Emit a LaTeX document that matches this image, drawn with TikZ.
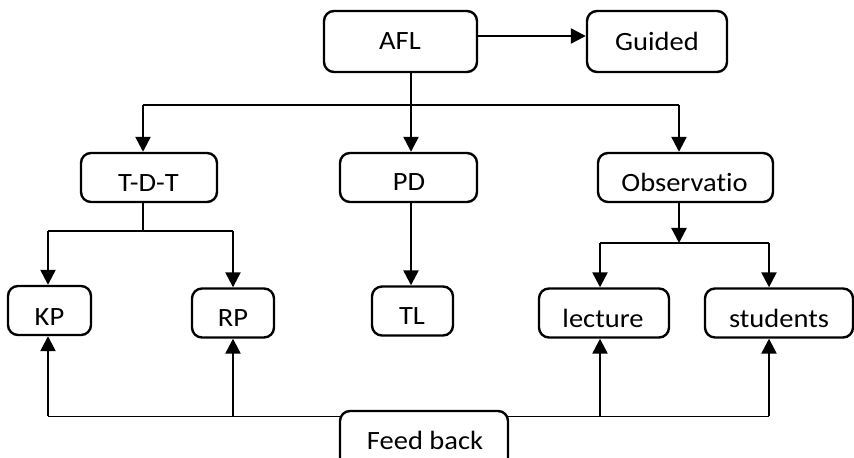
\documentclass[tikz,border=0pt]{standalone}
\usepackage{fontspec}
\setmainfont{Carlito}[FakeStretch=1.08,Ligatures=NoCommon]
\usetikzlibrary{arrows.meta,backgrounds}
\begin{document}
\begin{tikzpicture}[x=0.5pt,y=-0.5pt, line width=1.2pt,
  box/.style={draw, rounded corners=5pt, fill=white, inner sep=0pt, line width=1.2pt},
  txt/.style={anchor=base, inner sep=0pt, font=\fontsize{13.2}{15}\selectfont},
  arr/.style={-{Triangle[length=7.5pt,width=7.5pt]}}]
\useasboundingbox (0,0) rectangle (854,458);
\clip (0,0) rectangle (854,458);

% boxes
\node[box, minimum width=76.5pt, minimum height=30.5pt] (AFL) at (400.5,41.5) {};
\node[box, minimum width=70pt, minimum height=30.5pt] (Guided) at (657,41.5) {};
\node[box, minimum width=68pt, minimum height=24.5pt] (TDT) at (149,177.5) {};
\node[box, minimum width=68.5pt, minimum height=24.5pt] (PD) at (408.5,177.5) {};
\node[box, minimum width=87.5pt, minimum height=24.5pt] (Obs) at (685.5,177.5) {};
\node[box, minimum width=41.5pt, minimum height=24.5pt] (KP) at (49.5,310.5) {};
\node[box, minimum width=41pt, minimum height=24.5pt] (RP) at (233,313) {};
\node[box, minimum width=40.5pt, minimum height=24.5pt] (TL) at (412.5,311) {};
\node[box, minimum width=65pt, minimum height=24.5pt] (Lec) at (604,313) {};
\node[box, minimum width=74pt, minimum height=24.5pt] (Stu) at (779,313) {};
\node[box, minimum width=84pt, minimum height=30pt] (Feed) at (424,441) {};

% texts
\node[txt] (tAFL) at (400,50) {AFL};
\node[txt] (tGuided) at (657,51) {Guided};
\node[txt] (tTDT) at (148.5,192) {T-D-T};
\node[txt] (tPD) at (409,191) {PD};
\node[txt] (tObs) at (684.5,192) {Observatio};
\node[txt] (tKP) at (49.5,326) {KP};
\node[txt] (tRP) at (233,327) {RP};
\node[txt] (tTL) at (412,324) {TL};
\node[txt] (tLec) at (603,328) {lecture};
\node[txt] (tStu) at (779,328) {students};
\node[txt] (tFeed) at (425,449) {Feed back};

% junction coordinates
\coordinate (a0) at (411,105);
\coordinate (b1) at (143,105);
\coordinate (b2) at (679,105);
\coordinate (c0) at (143,231);
\coordinate (c1) at (48,231);
\coordinate (c2) at (233,231);
\coordinate (d0) at (679,243);
\coordinate (d1) at (600,243);
\coordinate (d2) at (769,243);
\coordinate (f1) at (48,416);
\coordinate (f2) at (233,416);
\coordinate (f3) at (600,416);
\coordinate (f4) at (769,416);
\coordinate (g0) at (0,36);

% connectors
\draw[arr] (AFL.east |- g0) -- (Guided.west |- g0);
\draw (AFL.south -| a0) -- (a0);
\draw[arr] (a0) -- (PD.north -| a0);
\draw (b1) -- (b2);
\draw[arr] (b1) -- (TDT.north -| b1);
\draw[arr] (b2) -- (Obs.north -| b2);
\draw (TDT.south -| c0) -- (c0);
\draw (c1) -- (c2);
\draw[arr] (c1) -- (KP.north -| c1);
\draw[arr] (c2) -- (RP.north -| c2);
\draw[arr] (PD.south -| a0) -- (TL.north -| a0);
\draw[arr] (Obs.south -| d0) -- (d0);
\draw (d1) -- (d2);
\draw[arr] (d1) -- (Lec.north -| d1);
\draw[arr] (d2) -- (Stu.north -| d2);
\begin{scope}[on background layer]
\draw (f1) -- (f4);
\end{scope}
\draw[arr] (f1) -- (KP.south -| f1);
\draw[arr] (f2) -- (RP.south -| f2);
\draw[arr] (f3) -- (Lec.south -| f3);
\draw[arr] (f4) -- (Stu.south -| f4);
\end{tikzpicture}
\end{document}
